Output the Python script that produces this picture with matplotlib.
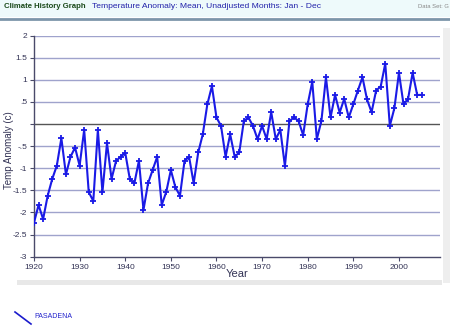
import matplotlib
matplotlib.use('Agg')
import matplotlib.pyplot as plt
from matplotlib.patches import Rectangle
from matplotlib.lines import Line2D

plt.rcParams['font.family'] = ['Liberation Sans', 'DejaVu Sans']

# data
years = list(range(1920, 2006))
anomaly = [-2.23, -1.83, -2.15, -1.62, -1.24, -0.94, -0.32, -1.14, -0.74, -0.53,
           -0.94, -0.13, -1.54, -1.74, -0.13, -1.54, -0.43, -1.24, -0.83, -0.74,
           -0.65, -1.24, -1.34, -0.83, -1.94, -1.34, -1.04, -0.74, -1.83, -1.53,
           -1.04, -1.43, -1.62, -0.83, -0.74, -1.34, -0.64, -0.23, 0.45, 0.86,
           0.15, -0.04, -0.74, -0.23, -0.74, -0.64, 0.07, 0.15, -0.04, -0.34,
           -0.04, -0.34, 0.27, -0.34, -0.13, -0.95, 0.07, 0.15, 0.07, -0.25,
           0.45, 0.96, -0.34, 0.07, 1.06, 0.15, 0.66, 0.26, 0.57, 0.15,
           0.45, 0.76, 1.06, 0.56, 0.27, 0.76, 0.85, 1.37, -0.04, 0.36,
           1.16, 0.45, 0.57, 1.16, 0.66, 0.66]
yticks = [2, 1.5, 1, 0.5, 0, -0.5, -1, -1.5, -2, -2.5, -3]
ytick_labels = ['2', '1.5', '1', '.5', '', '-.5', '-1', '-1.5', '-2', '-2.5', '-3']
xticks = [1920, 1930, 1940, 1950, 1960, 1970, 1980, 1990, 2000]

fig = plt.figure(figsize=(4.5, 3.27), dpi=100)
fig.patch.set_facecolor('white')

# header band
fig.patches.append(Rectangle((0, 1 - 17/327), 1, 17/327, transform=fig.transFigure,
                             facecolor='#eefafb', edgecolor='none', zorder=0))
fig.add_artist(Line2D([0, 1], [1 - 19/327, 1 - 19/327], transform=fig.transFigure,
                      color='#7d96aa', lw=2))
fig.text(4/450, 1 - 7/327, 'Climate History Graph', color='#1a4a1a', fontsize=5.6,
         va='center', fontweight='semibold')
fig.text(92/450, 1 - 7/327, 'Temperature Anomaly: Mean, Unadjusted Months: Jan - Dec',
         color='#2222aa', fontsize=6.1, va='center')
fig.text(418/450, 1 - 7/327, 'Data Set: G', color='#888888', fontsize=4.2, va='center')

# panel shadows
fig.patches.append(Rectangle((17/450, 1 - 285/327), 425/450, 5/327, transform=fig.transFigure,
                             facecolor='#e8e8e8', edgecolor='none', zorder=0))
fig.patches.append(Rectangle((443/450, 1 - 283/327), 7/450, 255/327, transform=fig.transFigure,
                             facecolor='#eeeeee', edgecolor='none', zorder=0))

ax = fig.add_axes([34/450, 1 - 256.7/327, 406/450, 221/327])
ax.set_facecolor('none')
for y in yticks:
    if y == 0:
        ax.axhline(y, color='#555555', lw=1.0, zorder=1)
    elif y != -3:
        ax.axhline(y, color='#9fa3cc', lw=1.0, zorder=1)

ax.plot(years, anomaly, color='#1a1ae6', lw=1.5, marker='+', ms=5, mew=1.3, zorder=3)

ax.set_xlim(1920, 2009)
ax.set_ylim(-3, 2)
ax.set_yticks(yticks)
ax.set_yticklabels(ytick_labels)
ax.set_xticks(xticks)
ax.tick_params(axis='both', colors='#4a4a6a', labelsize=6, length=3, width=0.8,
               labelcolor='#333355', pad=2)
for s in ['top', 'right']:
    ax.spines[s].set_visible(False)
for s in ['left', 'bottom']:
    ax.spines[s].set_color('#4a4a6a')
    ax.spines[s].set_linewidth(1.0)

ax.set_xlabel('Year', fontsize=8, color='#333355', labelpad=-1)
ax.set_ylabel('Temp Anomaly (c)', fontsize=7, color='#333355')
ax.yaxis.set_label_coords(-20/406, 0.48)

# legend
fig.add_artist(Line2D([15/450, 31/450], [1 - 312/327, 1 - 324/327],
                      transform=fig.transFigure, color='#1a1acc', lw=1.2))
fig.text(34/450, 1 - 317/327, 'PASADENA', color='#2222cc', fontsize=5, va='center')

fig.savefig('out.png', dpi=100)
